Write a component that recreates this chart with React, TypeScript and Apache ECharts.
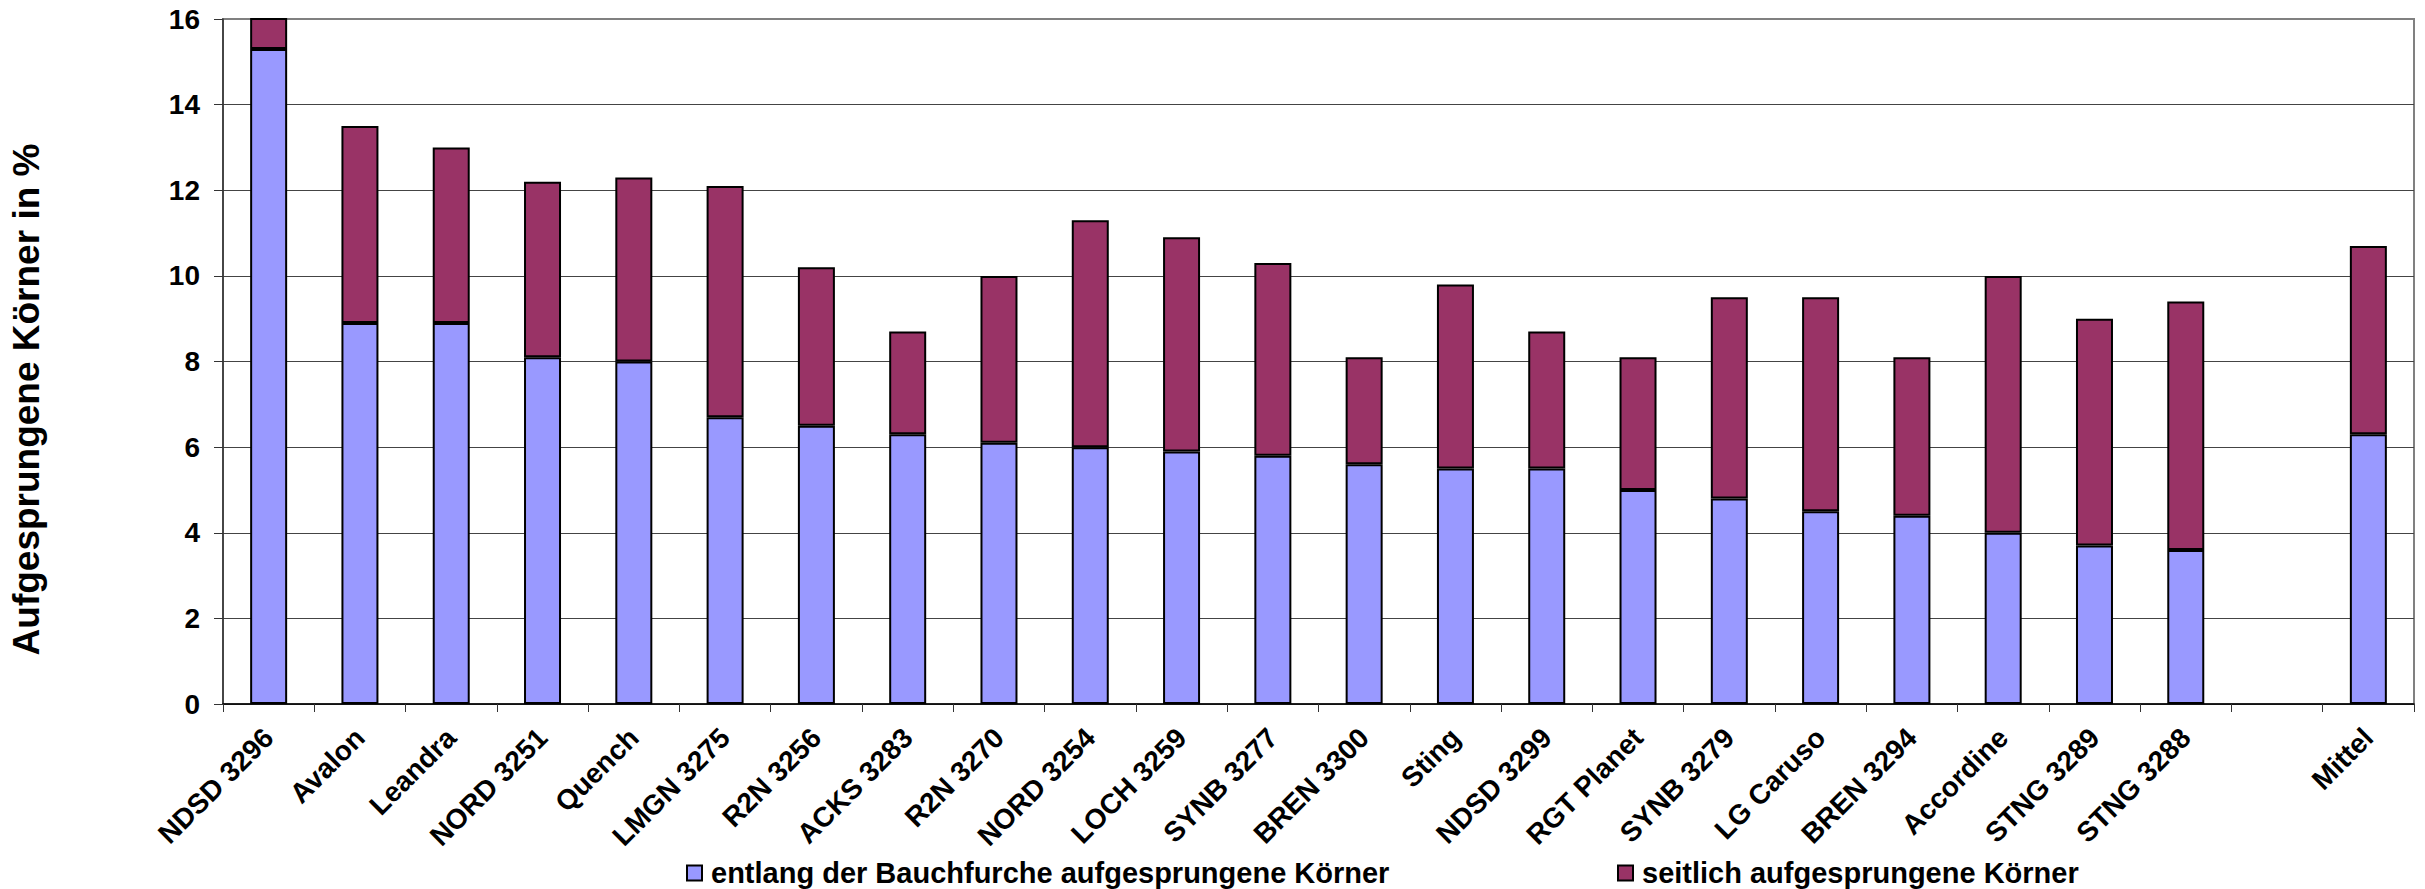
import React, { useEffect, useRef } from "react";
import * as echarts from "echarts";

const categories = [
  "NDSD 3296", "Avalon", "Leandra", "NORD 3251", "Quench", "LMGN 3275",
  "R2N 3256", "ACKS 3283", "R2N 3270", "NORD 3254", "LOCH 3259", "SYNB 3277",
  "BREN 3300", "Sting", "NDSD 3299", "RGT Planet", "SYNB 3279", "LG Caruso",
  "BREN 3294", "Accordine", "STNG 3289", "STNG 3288", "", "Mittel",
];

const seriesNames = [
  "entlang der Bauchfurche aufgesprungene Körner",
  "seitlich aufgesprungene Körner",
];

// along the ventral furrow (bottom, light blue)
const bauchfurche: (number | null)[] = [
  15.3, 8.9, 8.9, 8.1, 8.0, 6.7, 6.5, 6.3, 6.1, 6.0, 5.9, 5.8,
  5.6, 5.5, 5.5, 5.0, 4.8, 4.5, 4.4, 4.0, 3.7, 3.6, null, 6.3,
];

// lateral (top, maroon)
const seitlich: (number | null)[] = [
  1.2, 4.6, 4.1, 4.1, 4.3, 5.4, 3.7, 2.4, 3.9, 5.3, 5.0, 4.5,
  2.5, 4.3, 3.2, 3.1, 4.7, 5.0, 3.7, 6.0, 5.3, 5.8, null, 4.4,
];

const yTicks = { min: 0, max: 16, interval: 2 };

const FONT = "'Liberation Sans', Arial, sans-serif";

export default function App() {
  const ref = useRef<HTMLDivElement>(null);

  useEffect(() => {
    if (!ref.current) return;
    const chart = echarts.init(ref.current, null, { renderer: "svg" });
    const legendText = {
      fontFamily: FONT,
      fontWeight: "bold" as const,
      fontSize: 29,
      lineHeight: 30,
      color: "#000",
      padding: [0, 0, 0, 4],
    };
    chart.setOption({
      animation: false,
      backgroundColor: "#fff",
      grid: {
        left: 215,
        top: 19,
        right: 11,
        bottom: 185,
        show: true,
        borderColor: "#808080",
        borderWidth: 2,
        backgroundColor: "transparent",
      },
      legend: [
        {
          left: 686,
          top: 858,
          padding: 0,
          data: [seriesNames[0]],
          itemWidth: 15,
          itemHeight: 15,
          icon: "rect",
          textStyle: legendText,
        },
        {
          left: 1617,
          top: 858,
          padding: 0,
          data: [seriesNames[1]],
          itemWidth: 15,
          itemHeight: 15,
          icon: "rect",
          textStyle: legendText,
        },
      ],
      xAxis: {
        type: "category",
        data: categories,
        axisLine: { lineStyle: { color: "#000", width: 1.5 } },
        axisTick: { show: true, length: 8, lineStyle: { color: "#333" } },
        axisLabel: {
          interval: 0,
          rotate: 45,
          margin: 29,
          fontFamily: FONT,
          fontWeight: "bold",
          fontSize: 28,
          color: "#000",
        },
        splitLine: { show: false },
      },
      yAxis: {
        type: "value",
        min: yTicks.min,
        max: yTicks.max,
        interval: yTicks.interval,
        name: "Aufgesprungene Körner in %",
        nameLocation: "middle",
        nameRotate: 90,
        nameGap: 178,
        nameTextStyle: {
          fontFamily: FONT,
          fontWeight: "bold",
          fontSize: 37,
          color: "#000",
          padding: [0, 76, 0, 0],
        },
        axisLine: { show: true, lineStyle: { color: "#333", width: 1.5 } },
        axisTick: { show: true, length: 9, lineStyle: { color: "#333" } },
        axisLabel: {
          margin: 23,
          fontFamily: FONT,
          fontWeight: "bold",
          fontSize: 28,
          color: "#000",
        },
        splitLine: {
          show: true,
          lineStyle: {
            color: ["#444", "#444", "#444", "#444", "#444", "#444", "#444", "#444", "#808080"],
            width: 1,
          },
        },
      },
      series: [
        {
          name: seriesNames[0],
          type: "bar",
          stack: "total",
          barWidth: 37,
          data: bauchfurche,
          itemStyle: { color: "#9999FF", borderColor: "#000", borderWidth: 2 },
        },
        {
          name: seriesNames[1],
          type: "bar",
          stack: "total",
          barWidth: 37,
          data: seitlich,
          itemStyle: { color: "#993366", borderColor: "#000", borderWidth: 2 },
        },
      ],
    });
    return () => chart.dispose();
  }, []);

  return (
    <div
      ref={ref}
      style={{ position: "absolute", left: 0, top: 0, width: 2425, height: 889 }}
    />
  );
}
